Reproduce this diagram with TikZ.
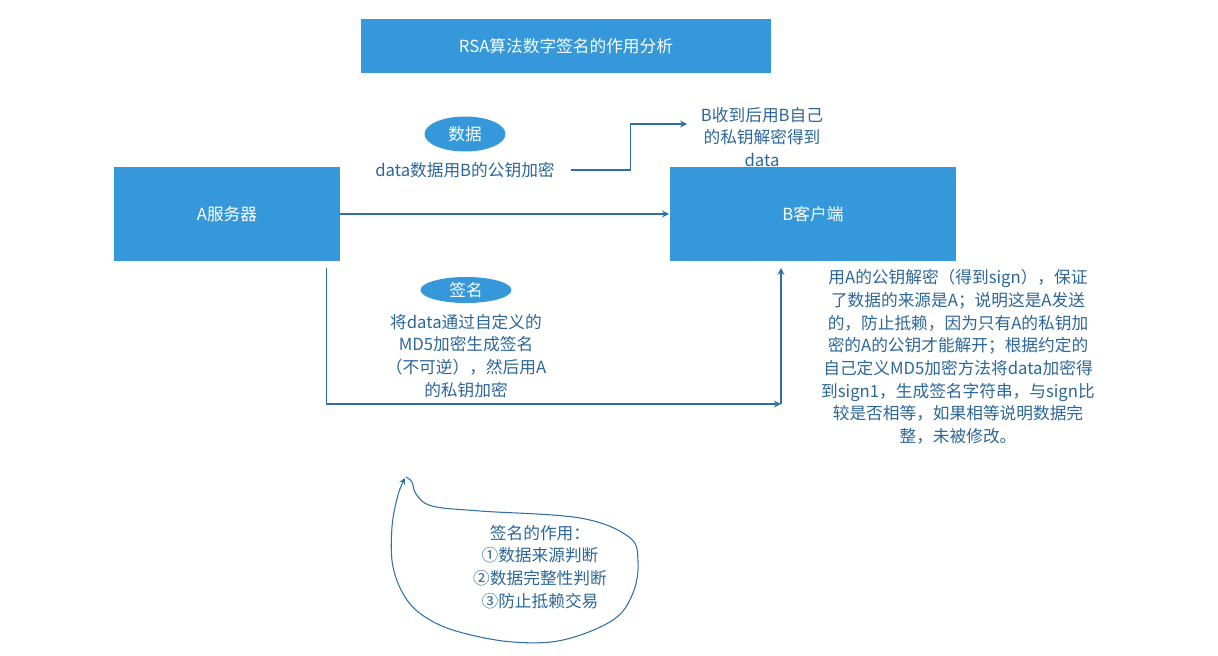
\documentclass[tikz,border=0pt]{standalone}
\usepackage{fontspec}
\setmainfont{Noto Sans CJK SC}
\usetikzlibrary{shapes.geometric}
\definecolor{boxblue}{HTML}{3498DB}
\definecolor{lnblue}{HTML}{2F6EA6}
\definecolor{txblue}{HTML}{2C6699}
\begin{document}
\begin{tikzpicture}[
  x=0.02cm, y=-0.02cm,
  font=\fontsize{9.5}{13}\selectfont,
  hd/.style={rectangle, fill=boxblue, text=white, minimum width=8.22cm,
    minimum height=1.1cm, inner sep=0pt},
  sv/.style={rectangle, fill=boxblue, text=white, minimum height=1.9cm, inner sep=0pt},
  tag/.style={ellipse, fill=boxblue, text=white, inner sep=0pt},
  txt/.style={text=txblue, align=center, inner sep=2pt},
  a/.style={thick, draw=lnblue, -stealth}
]
\useasboundingbox (0,0) rectangle (1218,656);
\node[hd] (title) at (566,46) {RSA算法数字签名的作用分析};
\node[sv, minimum width=4.52cm] (A) at (227,214) {A服务器};
\node[sv, minimum width=5.74cm] (B) at (813,214) {B客户端};
\node[tag, minimum width=1.62cm, minimum height=0.7cm] (dt) at (465,134) {数据};
\node[txt] (enc) at (465,170) {data数据用B的公钥加密};
\node[txt] (recv) at (762,137) {B收到后用B自己\\的私钥解密得到\\data};
\node[tag, minimum width=1.82cm, minimum height=0.52cm] (sg) at (466,290) {签名};
\node[txt] (sgtxt) at (466,356) {将data通过自定义的\\MD5加密生成签名\\（不可逆），然后用A\\的私钥加密};
\node[txt, font=\fontsize{9.5}{12.9}\selectfont] (check) at (958,357) {用A的公钥解密（得到sign），保证\\了数据的来源是A；说明这是A发送\\的，防止抵赖，因为只有A的私钥加\\密的A的公钥才能解开；根据约定的\\自己定义MD5加密方法将data加密得\\到sign1，生成签名字符串，与sign比\\较是否相等，如果相等说明数据完\\整，未被修改。};
\node[txt] (role) at (540,567) {签名的作用：\\①数据来源判断\\②数据完整性判断\\③防止抵赖交易};
% connectors
\draw[a] (A) -- (B);
\coordinate (e0) at ([xshift=0.24cm]enc.east);
\draw[a] (e0) -- ++(60,0) |- ([yshift=0.26cm,xshift=-0.2cm]recv.west);
\coordinate (a0) at ([xshift=-0.28cm,yshift=-0.12cm]A.south east);
\coordinate (c1) at (781,404);
\draw[a] (a0) |- (c1);
\draw[a, shorten >=0.12cm] (c1) -- (c1 |- B.south);
% speech bubble round the role text
\draw[a, semithick] plot[smooth, tension=0.6] coordinates {(406,477) (412,482)
  (416,494) (432,506) (480,511) (580,518) (629,537) (638,561) (633,593)
  (613,620) (563,640) (513,642) (463,633) (430,620) (407,600) (393,567)
  (392,527) (398,495) (405,478)};
\end{tikzpicture}
\end{document}
